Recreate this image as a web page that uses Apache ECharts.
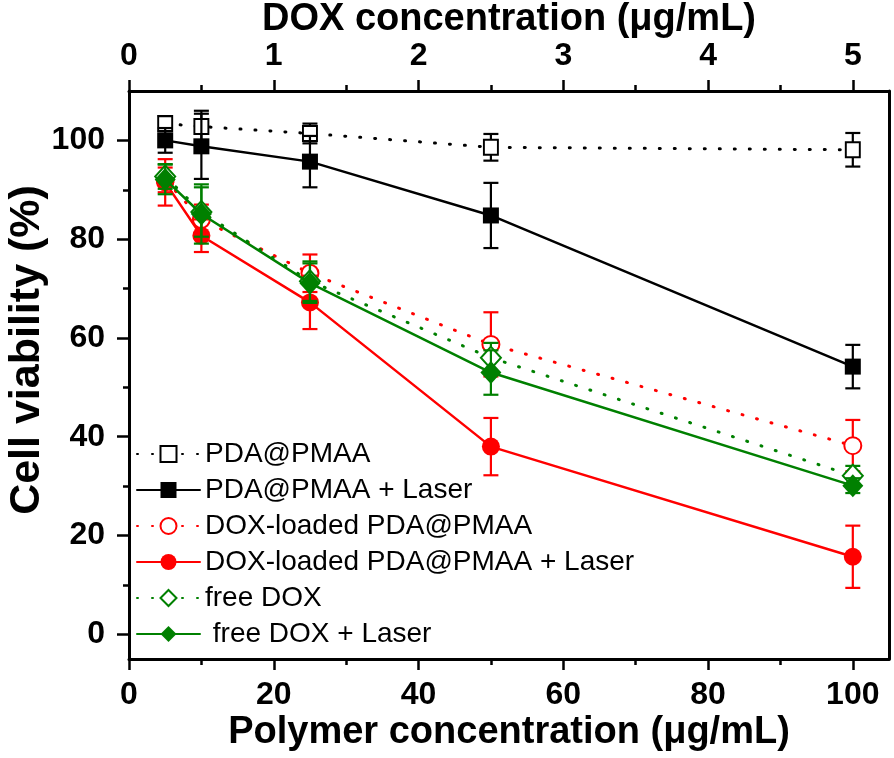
<!DOCTYPE html>
<html><head><meta charset="utf-8">
<script src="https://cdn.jsdelivr.net/npm/echarts@6/dist/echarts.min.js"></script>
<style>html,body{margin:0;padding:0;background:#fff}#c{width:894px;height:758px}</style>
</head><body><div id="c"></div>
<script>
const polymerConc = [5, 10, 25, 50, 100];
const xTicks = [0, 20, 40, 60, 80, 100];
const xMinor = [10, 30, 50, 70, 90];
const doxTicks = [0, 1, 2, 3, 4, 5];
const doxMinor = [0.5, 1.5, 2.5, 3.5, 4.5];
const yTicks = [0, 20, 40, 60, 80, 100];
const yMinor = [10, 30, 50, 70, 90];

const names = ['PDA@PMAA', 'PDA@PMAA + Laser', 'DOX-loaded PDA@PMAA', 'DOX-loaded PDA@PMAA + Laser', 'free DOX', ' free DOX + Laser'];
const pda      = [103.4, 102.8, 101.4, 98.6, 98.1];
const pdaErr   = [1.5, 3.2, 2.0, 2.7, 3.4];
const pdaL     = [100.0, 98.8, 95.7, 84.8, 54.2];
const pdaLErr  = [2.5, 6.6, 5.2, 6.6, 4.4];
const dox      = [92.0, 84.0, 73.1, 58.7, 38.2];
const doxErr   = [2.5, 3.0, 3.8, 6.5, 5.2];
const doxL     = [91.5, 80.7, 67.2, 38.0, 15.7];
const doxLErr  = [4.7, 3.3, 5.4, 5.8, 6.3];
const free     = [92.7, 85.5, 71.5, 56.0, 32.1];
const freeErr  = [2.5, 5.0, 4.0, 3.0, 2.0];
const freeL    = [92.1, 85.1, 71.1, 53.0, 30.1];
const freeLErr = [3.0, 6.0, 4.0, 4.5, 1.5];

const BLACK = '#000000', RED = '#ff0000', GREEN = '#008000';
const FONT = 'Liberation Sans, Arial, sans-serif';

const specs = [
  {name: names[0], y: pda,   e: pdaErr,   color: BLACK, open: true,  sym: 'rect',    size: [14, 15], dotted: true},
  {name: names[1], y: pdaL,  e: pdaLErr,  color: BLACK, open: false, sym: 'rect',    size: [16, 16], dotted: false},
  {name: names[2], y: dox,   e: doxErr,   color: RED,   open: true,  sym: 'circle',  size: 17,       dotted: true},
  {name: names[3], y: doxL,  e: doxLErr,  color: RED,   open: false, sym: 'circle',  size: 18,       dotted: false},
  {name: names[4], y: free,  e: freeErr,  color: GREEN, open: true,  sym: 'diamond', size: [20, 22], dotted: true},
  {name: names[5], y: freeL, e: freeLErr, color: GREEN, open: false, sym: 'diamond', size: [21, 23], dotted: false}
];

const series = [];
specs.forEach((s, i) => {
  series.push({
    type: 'custom',
    name: s.name + '_err',
    xAxisIndex: 0, yAxisIndex: 0,
    z: 2 + i * 2,
    silent: true,
    data: polymerConc.map((x, k) => [x, s.y[k], s.e[k]]),
    renderItem: (params, api) => {
      const x = api.value(0), y = api.value(1), e = api.value(2);
      const t = api.coord([x, y + e]), b = api.coord([x, y - e]);
      const hw = 7.5;
      const st = {stroke: s.color, lineWidth: 2.2};
      return {type: 'group', children: [
        {type: 'line', shape: {x1: t[0], y1: t[1], x2: b[0], y2: b[1]}, style: st},
        {type: 'line', shape: {x1: t[0] - hw, y1: t[1], x2: t[0] + hw, y2: t[1]}, style: st},
        {type: 'line', shape: {x1: b[0] - hw, y1: b[1], x2: b[0] + hw, y2: b[1]}, style: st}
      ]};
    }
  });
  series.push({
    type: 'line',
    name: s.name,
    xAxisIndex: 0, yAxisIndex: 0,
    z: 3 + i * 2,
    data: polymerConc.map((x, k) => [x, s.y[k]]),
    symbol: s.sym,
    symbolSize: s.size,
    showAllSymbol: true,
    animation: false,
    lineStyle: {color: s.color, width: s.dotted ? 3 : 2.5, type: s.dotted ? [1, 14] : 'solid', cap: 'round'},
    itemStyle: {color: s.open ? '#ffffff' : s.color, borderColor: s.color, borderWidth: s.open ? 2 : 0, opacity: 1}
  });
});

const axisLineStyle = {show: true, onZero: false, lineStyle: {color: '#000', width: 3}};
const noLine = {show: false, onZero: false};
const labelStyle = {color: '#000', fontFamily: FONT, fontWeight: 'bold', fontSize: 32};
const nameStyle = {color: '#000', fontFamily: FONT, fontWeight: 'bold', fontSize: 38};
const tickStyle = {width: 2.5, color: '#000'};

const option = {
  animation: false,
  backgroundColor: '#ffffff',
  grid: {left: 129, top: 91, width: 760, height: 568, containLabel: false, outerBoundsMode: 'none'},
  legend: {
    data: names,
    orient: 'vertical',
    left: 136, top: 440,
    padding: 0,
    itemWidth: 63, itemHeight: 20, itemGap: 8,
    textStyle: {color: '#000', fontFamily: FONT, fontSize: 28, lineHeight: 28},
    selectedMode: false
  },
  xAxis: [
    {type: 'value', position: 'bottom', min: 0, max: 105,
     name: 'Polymer concentration (μg/mL)', nameLocation: 'middle', nameGap: 55, nameMoveOverlap: false, nameTextStyle: nameStyle,
     axisLine: axisLineStyle,
     axisTick: {show: true, inside: false, length: 11, lineStyle: tickStyle, customValues: xTicks},
     axisLabel: {show: true, margin: 20, customValues: xTicks, ...labelStyle},
     splitLine: {show: false}},
    {type: 'value', position: 'top', min: 0, max: 5.25,
     name: 'DOX concentration (μg/mL)', nameLocation: 'middle', nameGap: 52, nameMoveOverlap: false, nameTextStyle: nameStyle,
     axisLine: axisLineStyle,
     axisTick: {show: true, inside: false, length: 11, lineStyle: tickStyle, customValues: doxTicks},
     axisLabel: {show: true, margin: 19, customValues: doxTicks, ...labelStyle},
     splitLine: {show: false}},
    {type: 'value', position: 'bottom', min: 0, max: 105,
     axisLine: noLine,
     axisTick: {show: true, inside: false, length: 6, lineStyle: tickStyle, customValues: xMinor},
     axisLabel: {show: false}, splitLine: {show: false}},
    {type: 'value', position: 'top', min: 0, max: 5.25,
     axisLine: noLine,
     axisTick: {show: true, inside: false, length: 6, lineStyle: tickStyle, customValues: doxMinor},
     axisLabel: {show: false}, splitLine: {show: false}}
  ],
  yAxis: [
    {type: 'value', position: 'left', min: -5, max: 110,
     name: 'Cell viability (%)', nameLocation: 'middle', nameGap: 80, nameRotate: 90, nameMoveOverlap: false,
     nameTextStyle: {...nameStyle, fontSize: 43, padding: [0, 0, 0, 50]},
     axisLine: axisLineStyle,
     axisTick: {show: true, inside: false, length: 12, lineStyle: tickStyle, customValues: yTicks},
     axisLabel: {show: true, margin: 24, customValues: yTicks, ...labelStyle},
     splitLine: {show: false}},
    {type: 'value', position: 'right', min: -5, max: 110,
     axisLine: axisLineStyle, axisTick: {show: false}, axisLabel: {show: false}, splitLine: {show: false}},
    {type: 'value', position: 'left', min: -5, max: 110,
     axisLine: noLine,
     axisTick: {show: true, inside: false, length: 6, lineStyle: tickStyle, customValues: yMinor},
     axisLabel: {show: false}, splitLine: {show: false}}
  ],
  series: series
};

const chart = echarts.init(document.getElementById('c'), null, {renderer: 'canvas'});
chart.setOption(option);
</script>
</body></html>
